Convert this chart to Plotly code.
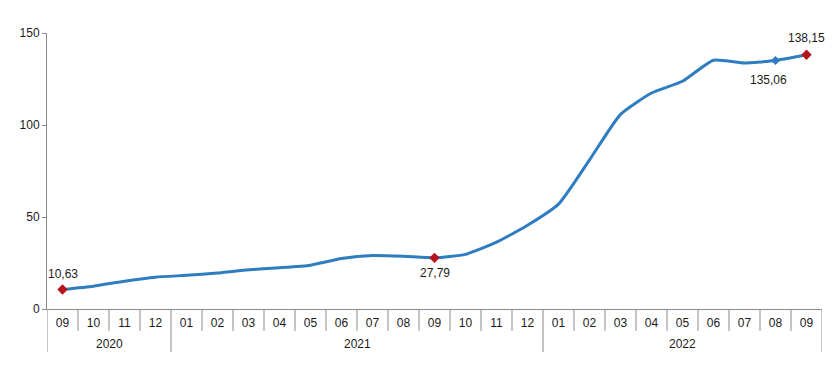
import plotly.graph_objects as go

years = ["2020"] * 4 + ["2021"] * 12 + ["2022"] * 9
months = ["09", "10", "11", "12",
          "01", "02", "03", "04", "05", "06", "07", "08", "09", "10", "11", "12",
          "01", "02", "03", "04", "05", "06", "07", "08", "09"]
values = [10.63, 12.4, 15.1, 17.3, 18.3, 19.5, 21.3, 22.4, 23.8, 27.4, 29.1, 28.7,
          27.79, 29.7, 36.3, 45.5, 57.0, 81.0, 105.8, 117.4, 123.8, 135.2, 133.7,
          135.06, 138.15]

red_idx = [0, 12, 24]
blue_idx = [23]
label_idx = [0, 12, 23, 24]
label_text = ["10,63", "27,79", "135,06", "138,15"]
label_dy = [15, -15, -20, 17]
label_dx = [0, 0, -7, 0]

LINE = "#2E7DC0"
RED = "#B8121B"
AXIS = "#8c8c8c"
FONT = dict(family="Liberation Sans, Arial, sans-serif", size=12, color="#1a1a1a")

# page body has an 8px default margin; figure size/margins compensate for it
W, H = 823, 351
M = dict(l=39, r=9, t=25, b=50)
plot_h = H - M["t"] - M["b"]

idx = list(range(len(values)))

fig = go.Figure()
fig.add_trace(go.Scatter(
    x=idx, y=values, mode="lines",
    line=dict(color=LINE, width=3, shape="spline", smoothing=0.5),
    hoverinfo="skip", showlegend=False))
fig.add_trace(go.Scatter(
    x=red_idx, y=[values[i] for i in red_idx], mode="markers",
    marker=dict(symbol="diamond", size=8, color=RED),
    showlegend=False))
fig.add_trace(go.Scatter(
    x=blue_idx, y=[values[i] for i in blue_idx], mode="markers",
    marker=dict(symbol="diamond", size=7, color=LINE),
    showlegend=False))

for i, t, dy, dx in zip(label_idx, label_text, label_dy, label_dx):
    fig.add_annotation(x=i, y=values[i], text=t, showarrow=False,
                       yshift=dy, xshift=dx, font=FONT)

# category separators (month short, year long)
n = len(values)
for b in range(n + 1):
    is_year = b == 0 or b == n or years[b] != years[b - 1]
    length = 43 if is_year else 22
    fig.add_shape(type="line", xref="x", yref="paper",
                  x0=b - 0.5, x1=b - 0.5, y0=0, y1=-length / plot_h,
                  line=dict(color=AXIS, width=1), layer="above")

# year labels
groups = []
for i, y in enumerate(years):
    if not groups or groups[-1][0] != y:
        groups.append([y, i, i])
    else:
        groups[-1][2] = i
for y, a, b in groups:
    fig.add_annotation(x=(a + b) / 2, y=0, xref="x", yref="paper", text=y,
                       showarrow=False, yanchor="middle", yshift=-35, font=FONT)

fig.update_layout(
    width=W, height=H, margin=M,
    paper_bgcolor="white", plot_bgcolor="white",
    font=FONT,
)
fig.update_xaxes(
    range=[-0.5, n - 0.5], tickvals=idx, ticktext=months,
    showline=True, linecolor=AXIS, linewidth=1, ticks="",
    ticklabelstandoff=3,
    showgrid=False, zeroline=False, tickfont=FONT,
)
fig.update_yaxes(
    range=[0, 150], tickvals=[0, 50, 100, 150], showline=True,
    linecolor=AXIS, linewidth=1, ticks="outside", ticklen=4,
    tickcolor=AXIS, showgrid=False, zeroline=False, tickfont=FONT,
)

fig.write_html("out.html")
